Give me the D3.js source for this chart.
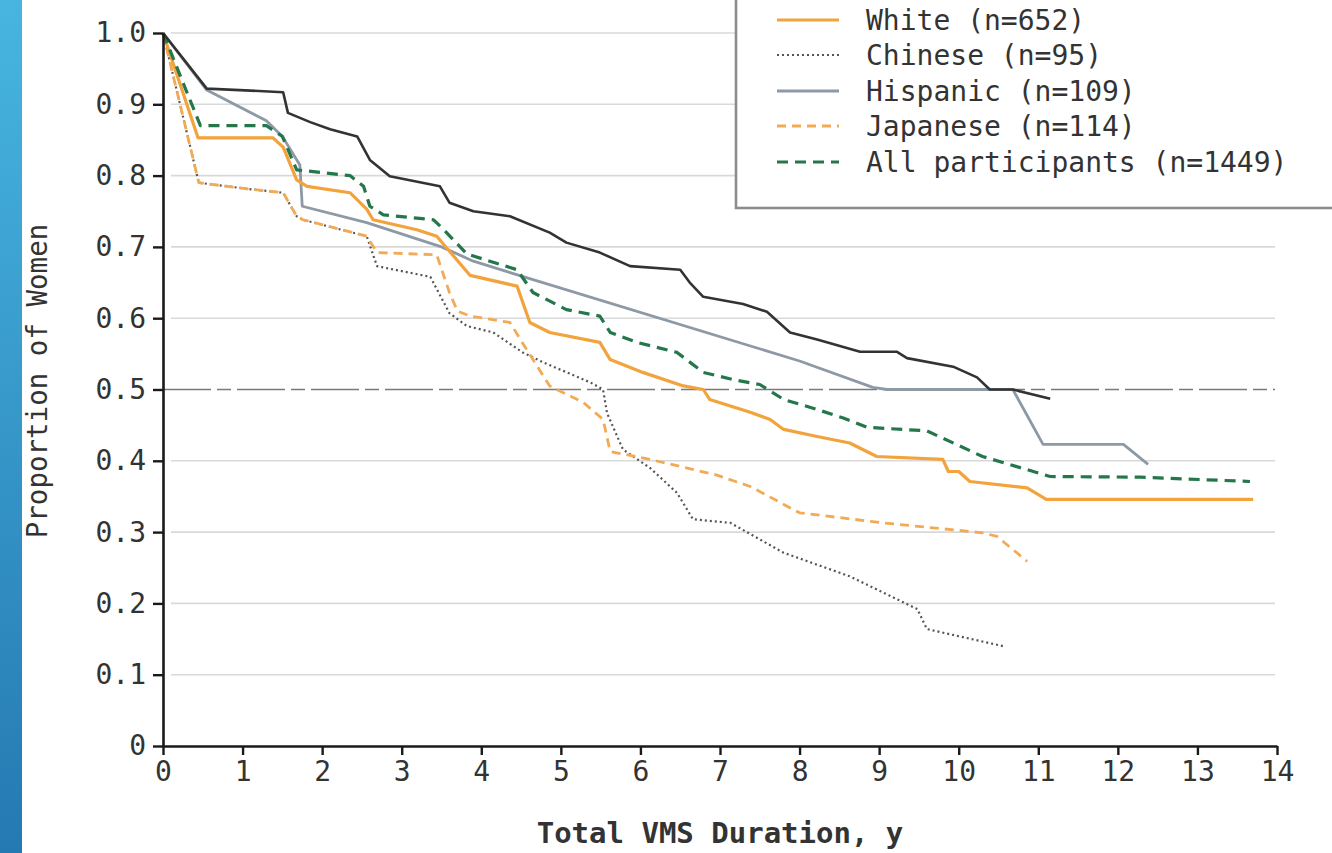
<!DOCTYPE html>
<html>
<head>
<meta charset="utf-8">
<script src="https://cdn.jsdelivr.net/npm/d3@7"></script>
<style>
  html, body { margin: 0; padding: 0; background: #ffffff; }
  svg { display: block; }
  text { font-family: "DejaVu Sans Mono", monospace; fill: #333; }
</style>
</head>
<body>
<svg id="chart" width="1332" height="853"></svg>
<script>
// Kaplan-Meier style curves: [years, proportion]
const africanAmerican = [[0,1],[0.55,0.922],[1.51,0.917],[1.57,0.888],[1.85,0.875],[2.1,0.865],[2.44,0.855],[2.6,0.822],[2.85,0.799],[3.48,0.785],[3.6,0.762],[3.9,0.75],[4.36,0.743],[4.86,0.72],[5.07,0.706],[5.49,0.692],[5.87,0.673],[6.5,0.668],[6.62,0.65],[6.79,0.63],[7.29,0.62],[7.59,0.609],[7.88,0.58],[8.22,0.57],[8.76,0.553],[9.22,0.553],[9.35,0.544],[9.93,0.532],[10.23,0.517],[10.39,0.5],[10.68,0.5],[11.15,0.487]];
const white = [[0,1],[0.44,0.853],[1.38,0.853],[1.51,0.84],[1.68,0.794],[1.81,0.785],[2.35,0.776],[2.56,0.753],[2.64,0.738],[3.19,0.724],[3.44,0.715],[3.6,0.694],[3.86,0.66],[4.45,0.645],[4.61,0.594],[4.86,0.58],[5.49,0.566],[5.62,0.542],[6.03,0.524],[6.54,0.505],[6.79,0.5],[6.87,0.486],[7.38,0.468],[7.63,0.458],[7.8,0.444],[8.22,0.434],[8.63,0.425],[8.97,0.406],[9.8,0.402],[9.87,0.385],[10.0,0.385],[10.14,0.371],[10.86,0.362],[11.1,0.346],[13.7,0.346]];
const chinese = [[0,1],[0.45,0.79],[1.09,0.781],[1.51,0.776],[1.68,0.743],[1.76,0.738],[2.56,0.715],[2.69,0.673],[3.36,0.658],[3.6,0.607],[3.82,0.589],[4.15,0.58],[4.52,0.552],[4.78,0.538],[5.37,0.51],[5.53,0.5],[5.58,0.467],[5.78,0.416],[6.12,0.39],[6.46,0.355],[6.66,0.318],[7.13,0.313],[7.8,0.271],[8.63,0.238],[9.48,0.192],[9.6,0.164],[10.56,0.14]];
const hispanic = [[0,1],[0.55,0.92],[1.3,0.877],[1.5,0.855],[1.72,0.815],[1.75,0.757],[2.56,0.734],[3.5,0.70],[3.9,0.68],[4.65,0.654],[8.0,0.54],[8.92,0.503],[9.1,0.5],[10.68,0.5],[11.06,0.423],[12.07,0.423],[12.38,0.395]];
const japanese = [[0,1],[0.45,0.79],[1.09,0.781],[1.51,0.776],[1.68,0.743],[1.76,0.738],[2.56,0.715],[2.69,0.692],[3.44,0.689],[3.6,0.636],[3.7,0.61],[3.86,0.603],[4.36,0.594],[4.57,0.556],[4.86,0.505],[5.28,0.482],[5.53,0.458],[5.62,0.413],[6.12,0.402],[6.96,0.38],[7.38,0.364],[8.0,0.327],[9.05,0.313],[10.3,0.299],[10.48,0.294],[10.86,0.259]];
const allParticipants = [[0,1],[0.47,0.87],[1.3,0.87],[1.5,0.855],[1.68,0.808],[2.35,0.80],[2.52,0.785],[2.6,0.757],[2.77,0.745],[3.4,0.738],[3.52,0.725],[3.82,0.69],[4.45,0.668],[4.65,0.636],[5.07,0.612],[5.49,0.603],[5.62,0.58],[5.96,0.566],[6.46,0.552],[6.79,0.524],[7.16,0.514],[7.5,0.507],[7.8,0.486],[8.22,0.472],[8.55,0.46],[8.85,0.447],[9.6,0.442],[10.3,0.406],[11.15,0.378],[12.28,0.377],[13.66,0.371]];

const legendLabels = ["African American (n=479)", "White (n=652)", "Chinese (n=95)", "Hispanic (n=109)", "Japanese (n=114)", "All participants (n=1449)"];
const xTickValues = [0,1,2,3,4,5,6,7,8,9,10,11,12,13,14];
const yTickValues = [0,0.1,0.2,0.3,0.4,0.5,0.6,0.7,0.8,0.9,1.0];
const yTickLabels = ["0","0.1","0.2","0.3","0.4","0.5","0.6","0.7","0.8","0.9","1.0"];
const medianLine = 0.5;

const series = [
  { name: legendLabels[0], data: africanAmerican, color: "#333333", width: 2.6, dash: null },
  { name: legendLabels[1], data: white, color: "#f2a33c", width: 3.2, dash: null },
  { name: legendLabels[2], data: chinese, color: "#555555", width: 2.2, dash: "2,3" },
  { name: legendLabels[3], data: hispanic, color: "#8d9aa6", width: 2.8, dash: null },
  { name: legendLabels[4], data: japanese, color: "#f2aa55", width: 2.8, dash: "9,6" },
  { name: legendLabels[5], data: allParticipants, color: "#23774a", width: 3.2, dash: "11,7" }
];
// drawing order: lighter curves underneath
const drawOrder = [3, 2, 4, 1, 5, 0];

const svg = d3.select("#chart");

// slide accent strip on the left edge
const defs = svg.append("defs");
const grad = defs.append("linearGradient").attr("id", "strip").attr("x1", 0).attr("y1", 0).attr("x2", 0).attr("y2", 1);
grad.append("stop").attr("offset", "0%").attr("stop-color", "#47b5e0");
grad.append("stop").attr("offset", "100%").attr("stop-color", "#2579b2");
svg.append("rect").attr("x", 0).attr("y", 0).attr("width", 22).attr("height", 853).attr("fill", "url(#strip)");

const x = d3.scaleLinear().domain([0, 14]).range([163, 1277]);
const y = d3.scaleLinear().domain([0, 1]).range([746, 33]);

// horizontal gridlines
svg.append("g").selectAll("line")
  .data(yTickValues.filter(v => v > 0 && v !== medianLine))
  .join("line")
  .attr("x1", x(0) + 8).attr("x2", x(14) - 2)
  .attr("y1", d => y(d)).attr("y2", d => y(d))
  .attr("stroke", "#d9d9d9").attr("stroke-width", 1.6);

// median reference line
svg.append("line")
  .attr("x1", x(0)).attr("x2", x(14) - 2)
  .attr("y1", y(medianLine)).attr("y2", y(medianLine))
  .attr("stroke", "#7a7a7a").attr("stroke-width", 1.6)
  .attr("stroke-dasharray", "48,6,14,6");

// survival curves
const line = d3.line().x(d => x(d[0])).y(d => y(d[1])).curve(d3.curveLinear);
const curves = svg.append("g").attr("fill", "none");
drawOrder.forEach(i => {
  const s = series[i];
  curves.append("path")
    .attr("d", line(s.data))
    .attr("stroke", s.color)
    .attr("stroke-width", s.width)
    .attr("stroke-linejoin", "round")
    .attr("stroke-dasharray", s.dash);
});

// axes
const xAxis = svg.append("g").attr("transform", `translate(0,${y(0)})`)
  .call(d3.axisBottom(x).tickValues(xTickValues).tickFormat(d3.format("d")).tickSizeInner(9).tickSizeOuter(0).tickPadding(6));
const yAxis = svg.append("g").attr("transform", `translate(${x(0)},0)`)
  .call(d3.axisLeft(y).tickValues(yTickValues).tickFormat((d, i) => yTickLabels[i]).tickSizeInner(10).tickSizeOuter(0).tickPadding(7));
[xAxis, yAxis].forEach(a => {
  a.select(".domain").attr("stroke", "#1a1a1a").attr("stroke-width", 2.6);
  a.selectAll(".tick line").attr("stroke", "#1a1a1a").attr("stroke-width", 2.4);
  a.selectAll(".tick text").attr("font-size", 28).attr("fill", "#333")
    .attr("font-family", "'DejaVu Sans Mono', monospace");
});

// axis titles
svg.append("text")
  .attr("x", 720).attr("y", 843)
  .attr("text-anchor", "middle")
  .attr("font-size", 29).attr("font-weight", "bold").attr("fill", "#333")
  .text("Total VMS Duration, y");
svg.append("text")
  .attr("transform", `translate(47,381) rotate(-90)`)
  .attr("text-anchor", "middle")
  .attr("font-size", 27.5).attr("fill", "#333")
  .text("Proportion of Women");

// legend (its first row sits above the visible area)
const legend = svg.append("g");
legend.append("rect")
  .attr("x", 736).attr("y", -30).attr("width", 640).attr("height", 238)
  .attr("fill", "#ffffff").attr("stroke", "#8c8c8c").attr("stroke-width", 2.6);
const rowY = [-16, 20, 55, 91, 126, 162];
series.forEach((s, i) => {
  if (rowY[i] < 0) return;
  const g = legend.append("g").attr("transform", `translate(0,${rowY[i]})`);
  g.append("line").attr("x1", 777).attr("x2", 839).attr("y1", 0).attr("y2", 0)
    .attr("stroke", s.color).attr("stroke-width", s.width)
    .attr("stroke-dasharray", s.dash);
  g.append("text").attr("x", 866).attr("y", 10)
    .attr("font-size", 28).attr("fill", "#333")
    .text(s.name);
});
</script>
</body>
</html>
